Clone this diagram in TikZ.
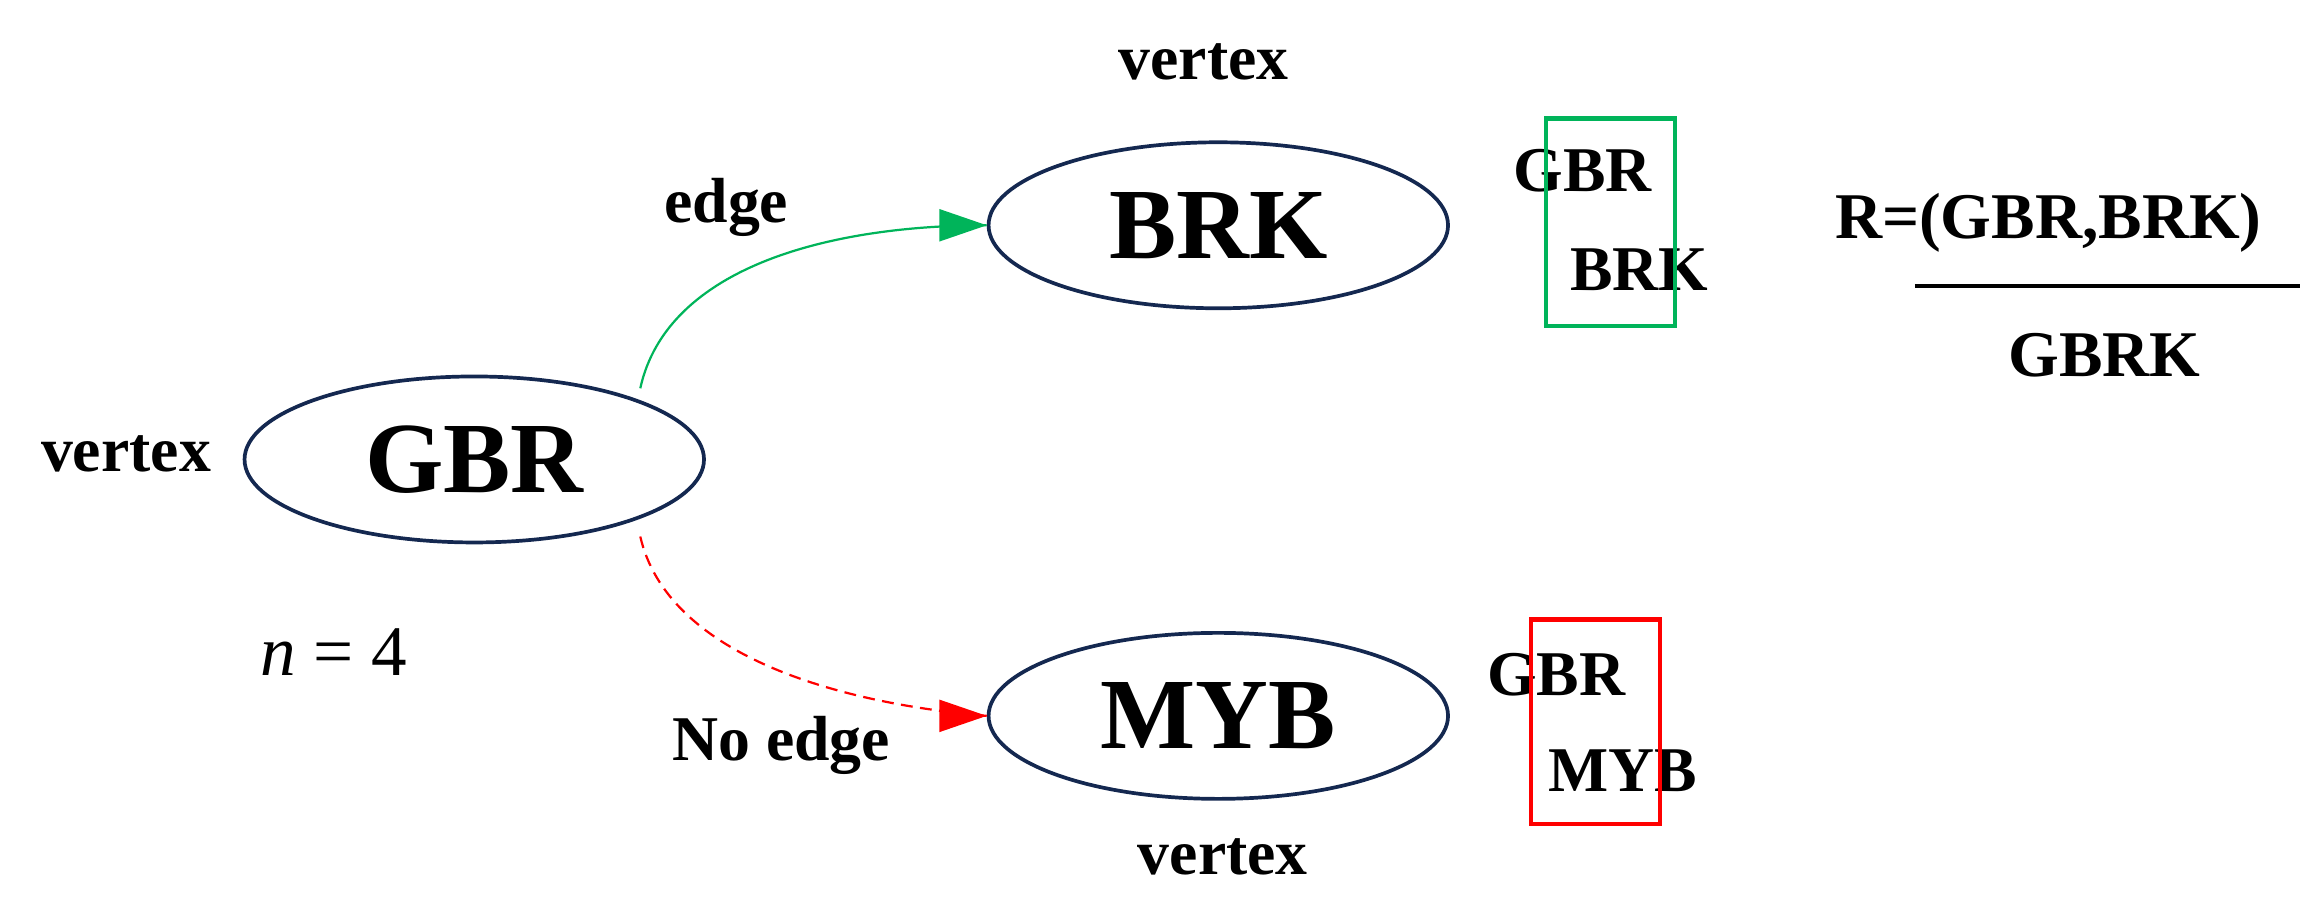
\documentclass[tikz,border=0pt]{standalone}
\usepackage{fontspec}
\setmainfont{Liberation Serif}
\usetikzlibrary{shapes.geometric}
\definecolor{navy}{RGB}{20,40,80}
\definecolor{grn}{RGB}{0,180,90}
\begin{document}
\begin{tikzpicture}[x=1pt,y=-1pt,
  v/.style={draw=navy,line width=2.5pt,ellipse,minimum width=310pt,minimum height=112pt},
  big/.style={font=\fontsize{68}{76}\selectfont\bfseries},
  lab/.style={font=\fontsize{43}{48}\selectfont\bfseries},
  mid/.style={font=\fontsize{44}{50}\selectfont\bfseries}]
\useasboundingbox (0,0) rectangle (1566,623);
\node[v,big] (g) at (320,310) {GBR};
\node[v,big] (b) at (822,152) {BRK};
\node[v,big] (m) at (822,483) {MYB};
\node[lab] (v1) at (85,306) {vertex};
\node[lab] (v2) at (812,42) {vertex};
\node[lab] (v3) at (825,578) {vertex};
\node[lab] (e1) at (490,140) {edge};
\node[lab] (e2) at (527,503) {No edge};
\node[font=\fontsize{48}{54}\selectfont] (n) at (225,440) {\textit{n} = 4};
\coordinate (gs) at (432,262);
\coordinate (gr) at (432,362);
\draw[grn,line width=1.5pt] (gs) .. controls (450,180) and (560,152) .. (b.west);
\fill[grn] (b.west) -- ++(-32,-11) -- ++(0,22) -- cycle;
\draw[red,dash pattern=on 8pt off 5pt,line width=1.5pt] (gr) .. controls (450,440) and (560,474) .. (m.west);
\fill[red] (m.west) -- ++(-32,-11) -- ++(0,22) -- cycle;
\node[lab] (t1) at (1068,115) {GBR};
\node[lab] (t2) at (1106,182) {BRK};
\draw[grn,line width=3pt] (1043,80) rectangle (1130,220);
\node[lab] (t3) at (1050,455) {GBR};
\node[lab] (t4) at (1095,520) {MYB};
\draw[red,line width=3pt] (1033,418) rectangle (1120,556);
\node[mid] (r) at (1382,150) {R=(GBR,BRK)};
\node[mid] (d) at (1420,240) {GBRK};
\draw[line width=3pt] (1292,193) -- (1552,193);
\end{tikzpicture}
\end{document}
